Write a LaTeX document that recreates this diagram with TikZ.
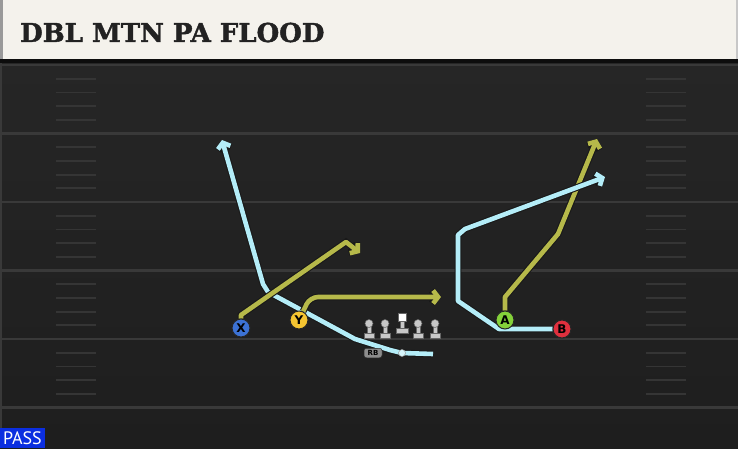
\documentclass[tikz,border=0pt]{standalone}
\usepackage{fontspec}
\setmainfont{DejaVu Sans}
\newfontfamily\titlefont[BoldFeatures={FakeBold=1.6}]{DejaVu Serif}
\newfontfamily\passfont{PT Sans}
\usetikzlibrary{arrows.meta}
\pgfdeclarelayer{turf}
\pgfdeclarelayer{routes}
\pgfsetlayers{turf,routes,main}
\definecolor{fieldtop}{HTML}{262626}
\definecolor{fieldbot}{HTML}{1E1E1E}
\definecolor{linegray}{HTML}{393939}
\definecolor{hashgray}{HTML}{353535}
\definecolor{cream}{HTML}{F4F2EC}
\definecolor{titleink}{HTML}{222222}
\definecolor{passblue}{HTML}{0B2EE0}
\definecolor{routecyan}{HTML}{B4EDF8}
\definecolor{routeyellow}{HTML}{B6B94A}
\definecolor{xblue}{HTML}{3C72D4}
\definecolor{yyellow}{HTML}{F5C531}
\definecolor{agreen}{HTML}{84D13A}
\definecolor{bred}{HTML}{DF303E}
\definecolor{mangray}{HTML}{C8C8C8}

\begin{document}
\begin{tikzpicture}[x=1pt,y=-1pt,
    player/.style={circle,draw=black!85,line width=1pt,minimum size=18pt,
      inner sep=0pt,font=\bfseries\fontsize{12}{12}\selectfont,text=black},
    yardline/.style={draw=linegray,line width=2.2pt},
    hashmark/.style={draw=hashgray,line width=1.8pt},
    route/.style={line width=4.6pt,line join=round,
      preaction={draw=black!90,line width=6.8pt}},
    cyanroute/.style={route,draw=routecyan},
    yellowroute/.style={route,draw=routeyellow},
    tip/.style={-{Straight Barb[length=5pt,width=13pt]}},
    manbody/.style={fill=mangray,draw=black!60,line width=0.5pt},
    manhead/.style={circle,fill=mangray,draw=black!60,line width=0.5pt,
      minimum size=8pt,inner sep=0pt},
    rbtag/.style={rounded corners=2.5pt,fill=black!45,draw=black!80,line width=0.5pt,
      font=\bfseries\fontsize{7}{7}\selectfont,text=black,
      minimum width=18pt,minimum height=9.5pt,inner sep=0pt}]
  \useasboundingbox (0,0) rectangle (738,448);
  \begin{pgfonlayer}{turf}
    \shade[top color=fieldtop,bottom color=fieldbot] (0,59) rectangle (738,448);% turf
    \draw[linegray,line width=1.5pt] (1,63) -- (1,448);
    \foreach \k in {0,...,5}{% yard lines every 5 yards
      \draw[yardline] (0,65+68.5*\k) -- (738,65+68.5*\k);}
    \foreach \k in {0,...,4}{% four hash marks in between
      \foreach \j in {1,...,4}{
        \draw[hashmark] (56,65+68.5*\k+13.7*\j) -- (96,65+68.5*\k+13.7*\j);
        \draw[hashmark] (646,65+68.5*\k+13.7*\j) -- (686,65+68.5*\k+13.7*\j);}}
    % title bar
    \fill[cream] (0,0) rectangle (738,59);
    \fill[black!40] (0,0) rectangle (3,59);
    \fill[black!22] (735.5,0) rectangle (738,59);
    \fill[black!95] (0,58.5) rectangle (738,63);
  \end{pgfonlayer}

  \node[anchor=west,inner sep=0pt,text=titleink,
    font=\titlefont\bfseries\fontsize{26}{26}\selectfont] (title) at (20,32.5) {DBL MTN PA FLOOD};
  \node[fill=passblue,text=white,inner sep=0pt,minimum width=45pt,minimum height=20pt,
    font=\passfont\fontsize{18}{18}\selectfont] (pass) at (22.5,438) {PASS};

  % skill players
  \node[player,fill=xblue] (X) at (241,328) {X};
  \node[player,fill=yyellow] (Y) at (299,320) {Y};
  \node[player,fill=agreen] (A) at (505,320) {A};
  \node[player,fill=bred] (B) at (562,329) {B};

  % line
  \foreach \x/\n in {369/lt,385/lg,418/rg,435/rt}{
    \filldraw[manbody] (\x-2.2,324) rectangle (\x+2.2,334);
    \filldraw[manbody] (\x-5,333) rectangle (\x+5,338);
    \node[manhead] (\n) at (\x,323.5) {};}
  \filldraw[manbody] (399.8,321) rectangle (404.2,329);
  \filldraw[manbody] (396,328) rectangle (408,333);
  \node[fill=white,draw=black!60,line width=0.5pt,minimum size=8pt,inner sep=0pt] (C) at (402,317) {};
  \node[rbtag] (RB) at (373,353) {RB};
  \node[circle,fill=routecyan!55!white,draw=black!40,line width=0.5pt,minimum size=7pt,inner sep=0pt] (hand) at (402,353) {};

  % route points
  \coordinate (xa) at (241,315);
  \coordinate (xb) at (346,242);
  \coordinate (xc) at (360,253);
  \coordinate (ya) at (310,297);
  \coordinate (yend) at (441,297);
  \coordinate (tail) at (433,354);
  \coordinate (r1) at (390,350);
  \coordinate (r2) at (355,339);
  \coordinate (r3) at (268,292);
  \coordinate (r4) at (263,284);
  \coordinate (xtop) at (222,140);
  \coordinate (aa) at (505,297);
  \coordinate (ab) at (558,234);
  \coordinate (atop) at (597,139);
  \coordinate (ba) at (499,329);
  \coordinate (bb) at (458,301);
  \coordinate (bc) at (458,235);
  \coordinate (bd) at (465,229);
  \coordinate (btop) at (605,177);

  \begin{pgfonlayer}{routes}
    \draw[cyanroute,tip] (tail) -- (hand.center) -- (r1) -- (r2) -- (r3) -- (r4) -- (xtop);
    \draw[yellowroute,tip] (X) -- (xa) -- (xb) -- (xc);
    \draw[yellowroute,tip,rounded corners=8pt] (Y) -- (ya) -- (yend);
    \draw[yellowroute,tip] (A) -- (aa) -- (ab) -- (atop);
    \draw[cyanroute,tip] (B) -- (ba) -- (bb) -- (bc) -- (bd) -- (btop);
  \end{pgfonlayer}
\end{tikzpicture}
\end{document}
